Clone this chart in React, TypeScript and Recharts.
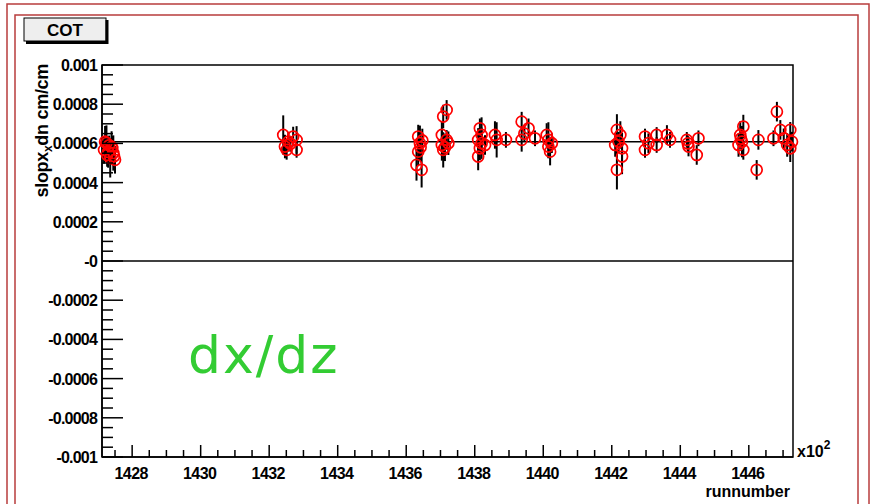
import React from "react";
import { ScatterChart, Scatter, XAxis, YAxis, ErrorBar, ReferenceLine, ReferenceArea } from "recharts";

// run number in units of 100, slope in cm/cm
const runNumber = [
  1427.21, 1427.25, 1427.18, 1427.3, 1427.42, 1427.45, 1427.36, 1427.5, 1427.27, 1427.4, 1427.33, 1427.47,
  1432.41, 1432.46, 1432.56, 1432.7, 1432.8, 1432.8, 1432.51, 1432.62,
  1436.35, 1436.4, 1436.35, 1436.3, 1436.45, 1436.42, 1436.47,
  1437.18, 1437.08, 1437.04, 1437.18, 1437.04, 1437.08, 1437.23, 1437.13,
  1438.15, 1438.2, 1438.1, 1438.2, 1438.15, 1438.1, 1438.3, 1438.59, 1438.64, 1438.91,
  1439.37, 1439.57, 1439.37, 1439.76, 1439.45,
  1440.1, 1440.15, 1440.25, 1440.15, 1440.2,
  1442.15, 1442.25, 1442.1, 1442.3, 1442.3, 1442.15, 1442.2,
  1442.97, 1442.97, 1443.07, 1443.31, 1443.31, 1443.61, 1443.7,
  1444.19, 1444.24, 1444.22, 1444.53, 1444.48,
  1445.84, 1445.75, 1445.8, 1445.7, 1445.84, 1445.77,
  1446.28, 1446.23,
  1446.82, 1446.72, 1446.92, 1447.02, 1447.12, 1447.21, 1447.26, 1447.21,
];
const slope = [
  0.000609, 0.000602, 0.000567, 0.000556, 0.000577, 0.000551, 0.000526, 0.000516, 0.000541, 0.000582, 0.00059, 0.000535,
  0.000643, 0.000584, 0.000609, 0.000635, 0.000618, 0.000567, 0.000567, 0.000598,
  0.000635, 0.000601, 0.000558, 0.00049, 0.000465, 0.00058, 0.000615,
  0.000771, 0.000737, 0.000643, 0.000618, 0.000592, 0.000567, 0.000601, 0.00058,
  0.000677, 0.000643, 0.000618, 0.000601, 0.000575, 0.000533, 0.000592, 0.000643, 0.000618, 0.000618,
  0.000711, 0.000677, 0.000618, 0.000626, 0.00065,
  0.000643, 0.000618, 0.000601, 0.000584, 0.000558,
  0.000669, 0.000643, 0.000592, 0.000575, 0.000533, 0.000465, 0.000609,
  0.000635, 0.000567, 0.000601, 0.000643, 0.000592, 0.000643, 0.000618,
  0.000618, 0.000584, 0.0006, 0.000626, 0.000541,
  0.000686, 0.000643, 0.000609, 0.000592, 0.000567, 0.000625,
  0.000618, 0.000465,
  0.000762, 0.000626, 0.000669, 0.000626, 0.000592, 0.000669, 0.000609, 0.000575,
];
const slopeErr = [
  0.00008, 0.00009, 0.00007, 0.00008, 0.00006, 0.00009, 0.0001, 0.00007, 0.00006, 0.00008, 0.00005, 0.00006,
  0.0001, 0.00006, 0.00005, 0.00005, 0.00007, 0.00004, 0.00005, 0.00004,
  0.00006, 0.00009, 0.00007, 0.00008, 0.00009, 0.00005, 0.00006,
  0.00005, 0.00006, 0.00007, 0.00005, 0.00008, 0.00009, 0.00006, 0.00007,
  0.00005, 0.00009, 0.00006, 0.00008, 0.00006, 0.00007, 0.00005, 0.00007, 0.00009, 0.00004,
  0.00005, 0.00005, 0.00006, 0.00004, 0.00004,
  0.00006, 0.00009, 0.00005, 0.00006, 0.00007,
  0.00008, 0.00007, 0.00006, 0.00008, 0.00009, 0.0001, 0.00005,
  0.00004, 0.00004, 0.00005, 0.00004, 0.00004, 0.00005, 0.00004,
  0.00004, 0.00005, 0.00004, 0.00004, 0.00005,
  0.00006, 0.00007, 0.00008, 0.00006, 0.00005, 0.00005,
  0.00005, 0.00005,
  0.00005, 0.00004, 0.00005, 0.00005, 0.00006, 0.00004, 0.00005, 0.00007,
];
const meanSlope = 0.000609;

const xMajor = [1428, 1430, 1432, 1434, 1436, 1438, 1440, 1442, 1444, 1446];
const xLabels = ["1428", "1430", "1432", "1434", "1436", "1438", "1440", "1442", "1444", "1446"];
const yMajor = [-0.001, -0.0008, -0.0006, -0.0004, -0.0002, 0, 0.0002, 0.0004, 0.0006, 0.0008, 0.001];
const yLabels = ["-0.001", "-0.0008", "-0.0006", "-0.0004", "-0.0002", "-0", "0.0002", "0.0004", "0.0006", "0.0008", "0.001"];

const X_MIN = 1427.12;
const X_MAX = 1447.29;

const data = runNumber.map((r, i) => ({ run: r, slope: slope[i], err: slopeErr[i] }));

// minor ticks: 4 divisions between majors
const xTicks: number[] = [];
for (let v = 1427.5; v <= 1447.01; v += 0.5) xTicks.push(Math.round(v * 10) / 10);
const yTicks: number[] = [];
for (let k = -20; k <= 20; k++) yTicks.push(Math.round(k * 5) / 100000);

const FONT = "'Liberation Sans', Arial, sans-serif";

const idx = (arr: number[], v: number) => arr.findIndex((m) => Math.abs(m - v) < 1e-9);

function XTick(props: any) {
  const { x, y, payload } = props;
  const i = idx(xMajor, payload.value);
  const major = i >= 0;
  return (
    <g>
      <line x1={x} x2={x} y1={y} y2={y - (major ? 12 : 7)} stroke="#000" strokeWidth={1.5} />
      {major && (
        <text x={x - 1} y={y + 22} textAnchor="middle" fontFamily={FONT} fontWeight="bold" fontSize={16} letterSpacing={-0.6} fill="#000">
          {xLabels[i]}
        </text>
      )}
    </g>
  );
}

function YTick(props: any) {
  const { x, y, payload } = props;
  const i = idx(yMajor, payload.value);
  const major = i >= 0;
  return (
    <g>
      <line x1={x} x2={x + (major ? 21 : 11)} y1={y} y2={y} stroke="#000" strokeWidth={1.5} />
      {major && (
        <text x={x - 5} y={y + 6} textAnchor="end" fontFamily={FONT} fontWeight="bold" fontSize={16} letterSpacing={-0.8} fill="#000">
          {yLabels[i]}
        </text>
      )}
    </g>
  );
}

const Marker = (props: any) => (
  <circle cx={props.cx} cy={props.cy} r={5.5} fill="none" stroke="#ff0000" strokeWidth={1.7} />
);

export default function App() {
  return (
    <div style={{ position: "absolute", left: 0, top: 0, width: 874, height: 504, background: "#fff", overflow: "hidden" }}>
      <svg width={874} height={504} style={{ position: "absolute", left: 0, top: 0 }}>
        <rect x={7} y={4} width={862} height={520} fill="none" stroke="#b83c3c" strokeWidth={1.5} />
        <rect x={15} y={15} width={843} height={510} fill="none" stroke="#b83c3c" strokeWidth={1.5} />
        <rect x={24} y={18} width={82} height={23} fill="#eeeeee" stroke="#000" strokeWidth={1} />
        <line x1={26} x2={108} y1={42.5} y2={42.5} stroke="#000" strokeWidth={3} />
        <line x1={107} x2={107} y1={20} y2={44} stroke="#000" strokeWidth={3} />
        <text x={65} y={36} textAnchor="middle" fontFamily={FONT} fontWeight="bold" fontSize={17} fill="#000">COT</text>
        <text x={48} y={64} transform="rotate(-90 48 64)" textAnchor="end" fontFamily={FONT} fontWeight="bold" fontSize={18} letterSpacing={-0.3} fill="#000">
          slopx<tspan fontSize={12} dy={4}>x</tspan><tspan dy={-4}>dn cm/cm</tspan>
        </text>
        <text x={797} y={457} fontFamily={FONT} fontWeight="bold" fontSize={16} fill="#000">
          x10<tspan fontSize={12} dy={-8}>2</tspan>
        </text>
        <text x={790} y={497} textAnchor="end" fontFamily={FONT} fontWeight="bold" fontSize={16} letterSpacing={0} fill="#000">runnumber</text>
        <text x={188} y={373} fontFamily="'DejaVu Sans', sans-serif" fontSize={52} letterSpacing={2} fill="#33cc33">dx/dz</text>
      </svg>
      <div style={{ position: "absolute", left: 0, top: 0 }}>
        <ScatterChart width={874} height={504} margin={{ top: 65, right: 81, bottom: 46, left: 101 }}>
          <XAxis
            type="number"
            dataKey="run"
            domain={[X_MIN, X_MAX]}
            ticks={xTicks}
            interval={0}
            height={1}
            tickSize={0}
            tickMargin={0}
            tickLine={false}
            axisLine={{ stroke: "#000", strokeWidth: 1.5 }}
            tick={<XTick />}
          />
          <YAxis
            type="number"
            dataKey="slope"
            domain={[-0.001, 0.001]}
            ticks={yTicks}
            interval={0}
            width={1}
            tickSize={0}
            tickMargin={0}
            tickLine={false}
            axisLine={{ stroke: "#000", strokeWidth: 1.5 }}
            tick={<YTick />}
          />
          <ReferenceArea x1={X_MIN} x2={X_MAX} y1={-0.001} y2={0.001} fill="none" stroke="#000" strokeWidth={1.5} ifOverflow="visible" />
          <ReferenceLine y={0} stroke="#000" strokeWidth={1.5} />
          <ReferenceLine y={meanSlope} stroke="#000" strokeWidth={1.5} />
          <Scatter data={data} shape={<Marker />} isAnimationActive={false}>
            <ErrorBar dataKey="err" direction="y" width={0} stroke="#000" strokeWidth={2} />
          </Scatter>
        </ScatterChart>
      </div>
    </div>
  );
}
